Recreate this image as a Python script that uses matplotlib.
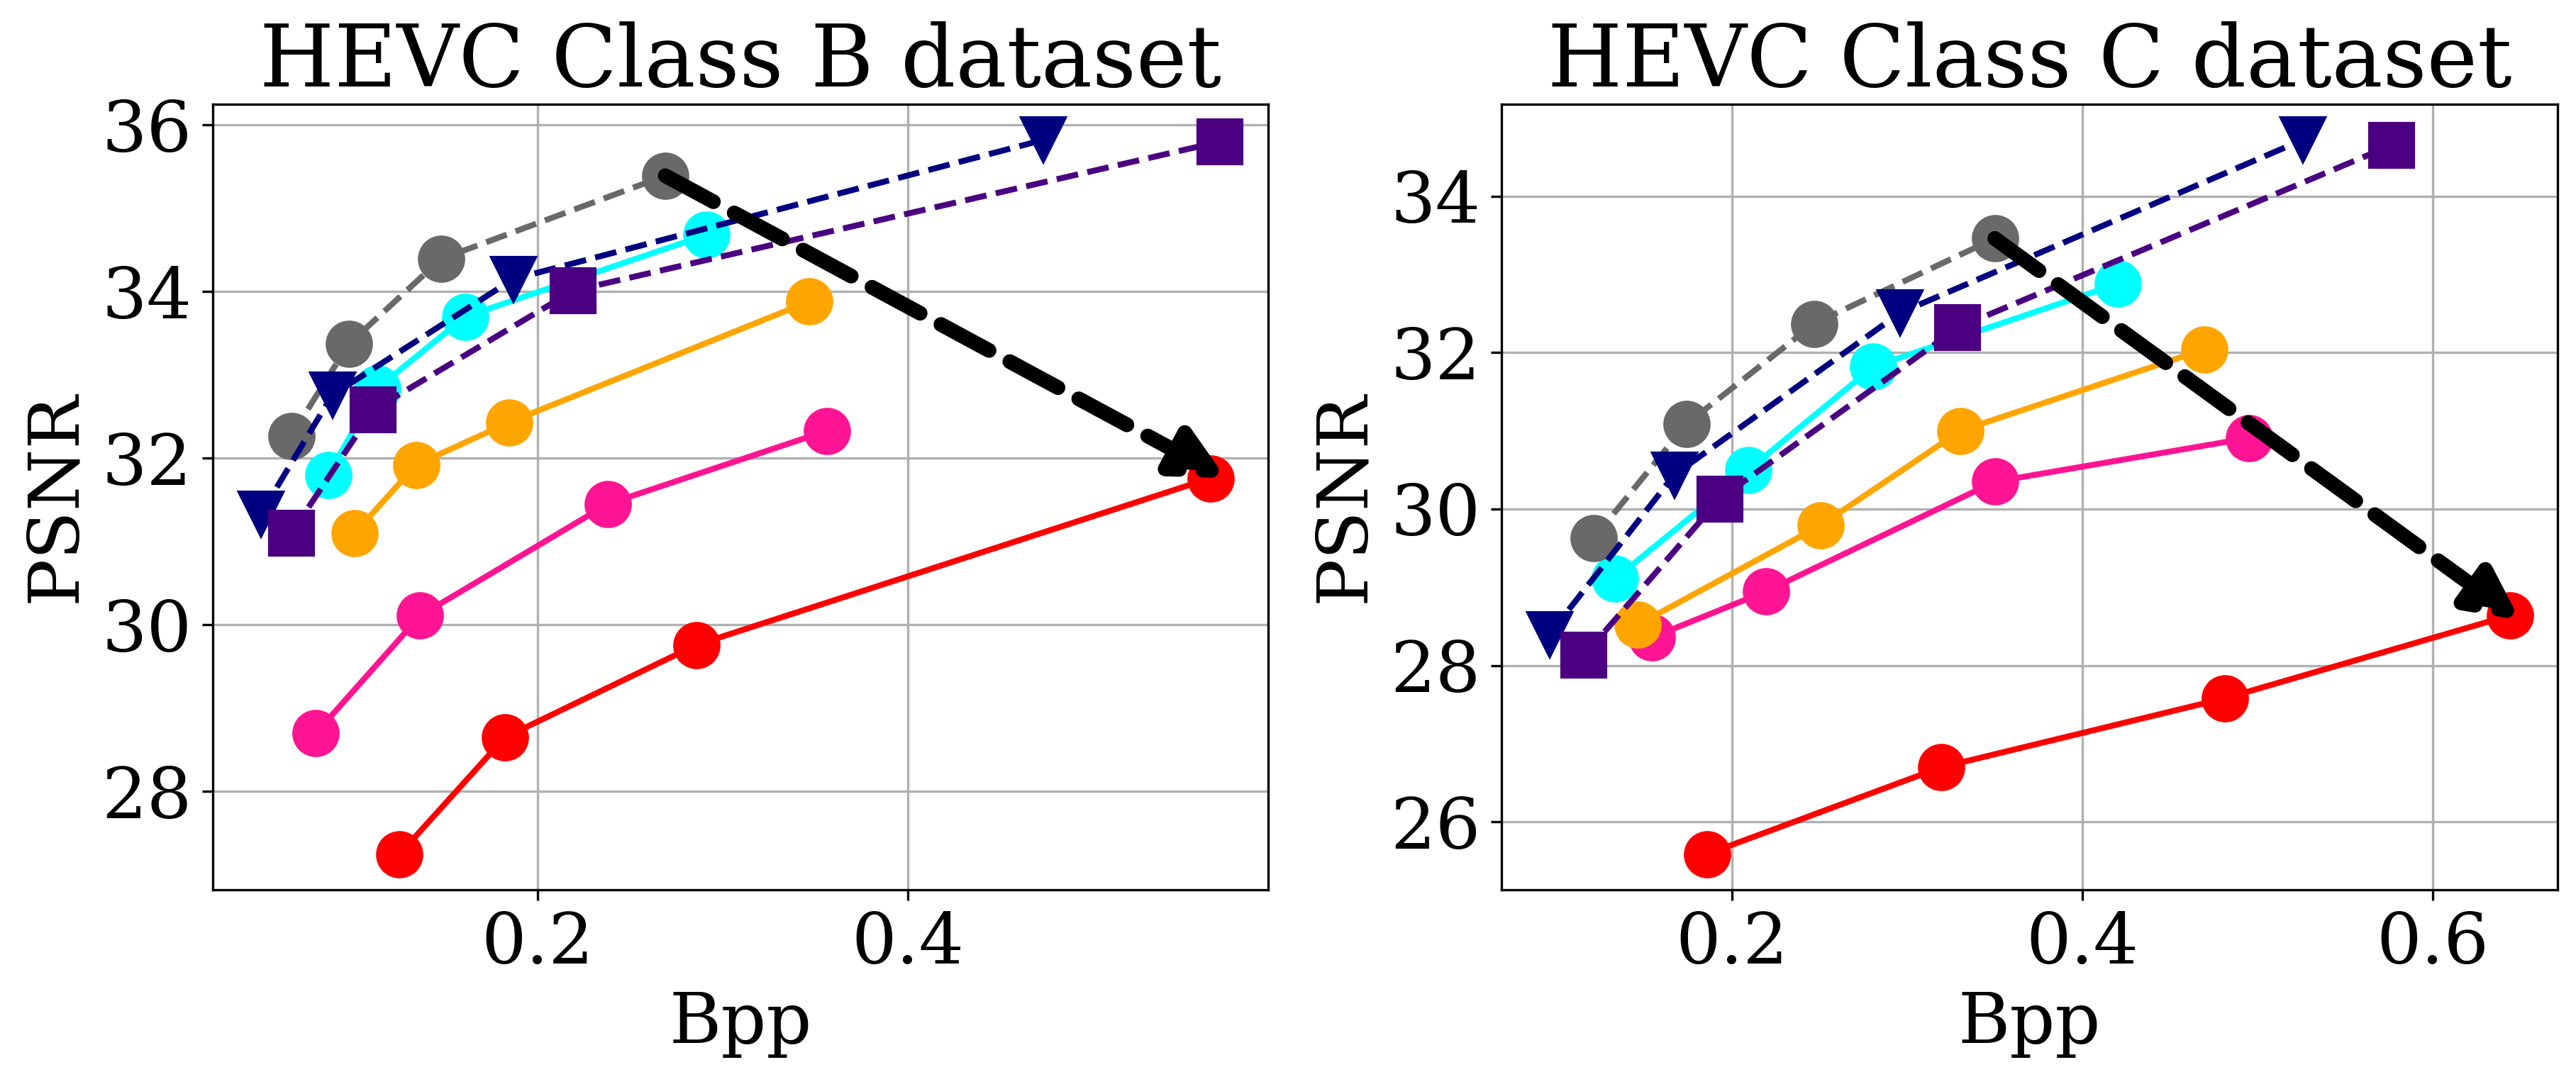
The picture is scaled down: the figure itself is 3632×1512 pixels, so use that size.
import matplotlib
matplotlib.use('Agg')
import matplotlib.pyplot as plt

plt.rcParams['font.family'] = 'serif'
plt.rcParams['font.serif'] = ['DejaVu Serif']

# HEVC Class B
b_gray_x = [0.0667, 0.0978, 0.1476, 0.2689]
b_gray_y = [32.27, 33.37, 34.39, 35.39]
b_navy_x = [0.0502, 0.0889, 0.1867, 0.4733]
b_navy_y = [31.33, 32.76, 34.15, 35.82]
b_indigo_x = [0.0667, 0.1111, 0.2191, 0.5689]
b_indigo_y = [31.10, 32.58, 34.01, 35.80]
b_cyan_x = [0.0867, 0.1133, 0.1609, 0.2911]
b_cyan_y = [31.80, 32.84, 33.70, 34.68]
b_orange_x = [0.1009, 0.1342, 0.1844, 0.3467]
b_orange_y = [31.10, 31.92, 32.43, 33.88]
b_pink_x = [0.0800, 0.1364, 0.2378, 0.3564]
b_pink_y = [28.70, 30.11, 31.45, 32.33]
b_red_x = [0.1253, 0.1822, 0.2858, 0.5636]
b_red_y = [27.25, 28.65, 29.76, 31.76]
b_arrow_from = (0.2689, 35.39)
b_arrow_to = (0.572, 31.76)

# HEVC Class C
c_gray_x = [0.1212, 0.1742, 0.2469, 0.3501]
c_gray_y = [29.63, 31.09, 32.37, 33.46]
c_navy_x = [0.0959, 0.1672, 0.2961, 0.5259]
c_navy_y = [28.40, 30.44, 32.51, 34.72]
c_indigo_x = [0.1156, 0.1930, 0.3290, 0.5765]
c_indigo_y = [28.13, 30.13, 32.32, 34.65]
c_cyan_x = [0.1334, 0.2094, 0.2807, 0.4204]
c_cyan_y = [29.11, 30.50, 31.82, 32.88]
c_orange_x = [0.1461, 0.2506, 0.3304, 0.4696]
c_orange_y = [28.52, 29.79, 31.00, 32.04]
c_pink_x = [0.1545, 0.2197, 0.3501, 0.4954]
c_pink_y = [28.36, 28.95, 30.35, 30.91]
c_red_x = [0.1859, 0.3196, 0.4814, 0.6441]
c_red_y = [25.59, 26.70, 27.58, 28.64]
c_arrow_from = (0.3501, 33.46)
c_arrow_to = (0.650, 28.58)

titles = ['HEVC Class B dataset', 'HEVC Class C dataset']

fig = plt.figure(figsize=(3632 / 300, 1512 / 300), dpi=300)
ax1 = fig.add_axes([0.0826, 0.170, 0.4097, 0.7328])
ax2 = fig.add_axes([0.5829, 0.170, 0.4100, 0.7328])


def draw(ax, red, pink, orange, cyan, gray, navy, indigo, arr_from, arr_to, title):
    ax.plot(*red, color='red', marker='o', ms=15, lw=2)
    ax.plot(*pink, color='deeppink', marker='o', ms=15, lw=2)
    ax.plot(*orange, color='orange', marker='o', ms=15, lw=2)
    ax.plot(*cyan, color='cyan', marker='o', ms=15, lw=2)
    ax.plot(*gray, color='dimgray', marker='o', ms=15, lw=2, ls='--')
    ax.plot(*navy, color='navy', marker='v', ms=15, lw=2, ls='--')
    ax.plot(*indigo, color='indigo', marker='s', ms=15, lw=2, ls='--')
    ax.annotate('', xy=arr_to, xytext=arr_from,
                arrowprops=dict(arrowstyle='-|>', color='black', lw=5, ls='--',
                                mutation_scale=35, shrinkA=0, shrinkB=0))
    ax.grid(True)
    ax.set_title(title, fontsize=29)
    ax.set_xlabel('Bpp', fontsize=24)
    ax.set_ylabel('PSNR', fontsize=24)
    ax.tick_params(labelsize=24)


draw(ax1, (b_red_x, b_red_y), (b_pink_x, b_pink_y), (b_orange_x, b_orange_y),
     (b_cyan_x, b_cyan_y), (b_gray_x, b_gray_y), (b_navy_x, b_navy_y),
     (b_indigo_x, b_indigo_y), b_arrow_from, b_arrow_to, titles[0])
draw(ax2, (c_red_x, c_red_y), (c_pink_x, c_pink_y), (c_orange_x, c_orange_y),
     (c_cyan_x, c_cyan_y), (c_gray_x, c_gray_y), (c_navy_x, c_navy_y),
     (c_indigo_x, c_indigo_y), c_arrow_from, c_arrow_to, titles[1])
ax1.set_yticks([28, 30, 32, 34, 36])
ax2.set_yticks([26, 28, 30, 32, 34])

fig.savefig('out.png', dpi=300)
